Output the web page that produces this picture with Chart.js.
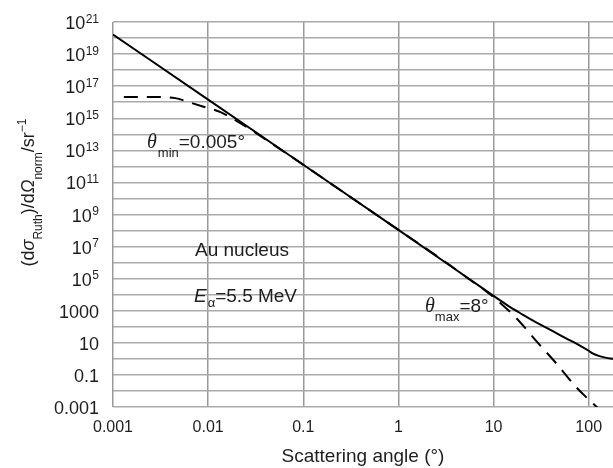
<html>

<head>
  <script src="https://cdn.jsdelivr.net/npm/chart.js"></script>
  <title>Rutherford scattering</title>
  <style>
    body { margin: 0; background: #fff; }
  </style>
</head>

<body>
  <canvas id="myChart" width="613" height="468"></canvas>

  <script>
    // scattering angle (deg) vs normalised cross section
    const solidAngle = [0.001, 0.01, 0.1, 1, 10, 14, 20, 28, 40, 56, 80, 100, 110, 125, 150, 180];
    const solidValue = [1.66e20, 1.45e16, 1.26e12, 1.1e8, 8.5e3, 2150, 600, 190, 63, 21, 7, 3.2, 2.2, 1.6, 1.2, 1.0];

    // finite angular range (theta_min / theta_max) curve
    const dashAngle = [0.0013, 0.003, 0.0045, 0.0065, 0.009, 0.0135, 0.022, 0.03, 0.1, 1, 3, 5.5, 8, 10, 17.4, 28.8, 45.7, 74, 123];
    const dashValue = [2.1e16, 2.1e16, 1.8e16, 9.5e15, 5.2e15, 2.4e15, 4.8e14, 1.5e14, 1.26e12, 1.1e8, 1.3e6, 9.5e4, 2e4, 7e3, 340, 11, 0.52, 0.017, 0.00093];

    const xTicks = [0.001, 0.01, 0.1, 1, 10, 100];
    const xTickLabels = ["0.001", "0.01", "0.1", "1", "10", "100"];
    const yTicks = [1e21, 1e19, 1e17, 1e15, 1e13, 1e11, 1e9, 1e7, 1e5, 1e3, 1e1, 1e-1, 1e-3];
    const yTickLabels = ["10^21", "10^19", "10^17", "10^15", "10^13", "10^11", "10^9", "10^7", "10^5", "1000", "10", "0.1", "0.001"];

    const SANS = "'Liberation Sans', Arial, sans-serif";
    const SERIF = "'Liberation Serif', 'Times New Roman', serif";

    function toPoints(xs, ys) {
      return xs.map((x, i) => ({ x: x, y: ys[i] }));
    }

    // draw a row of text pieces, each with its own font and baseline shift
    function drawRuns(ctx, runs, x, y) {
      let cx = x;
      for (const r of runs) {
        ctx.font = r.font;
        ctx.fillText(r.t, cx, y + (r.dy || 0));
        cx += ctx.measureText(r.t).width + (r.gap || 0);
      }
    }
    function runsWidth(ctx, runs) {
      let w = 0;
      for (const r of runs) {
        ctx.font = r.font;
        w += ctx.measureText(r.t).width + (r.gap || 0);
      }
      return w;
    }

    const textPlugin = {
      id: "textPlugin",
      afterDraw: (chart) => {
        const ctx = chart.ctx;
        const xs = chart.scales.x;
        const ys = chart.scales.y;
        const area = chart.chartArea;
        ctx.save();
        ctx.fillStyle = "#1e1e1e";
        ctx.textBaseline = "alphabetic";

        // x tick labels
        ctx.font = "16px " + SANS;
        ctx.textAlign = "center";
        xTicks.forEach((v, i) => {
          ctx.fillText(xTickLabels[i], xs.getPixelForValue(v), area.bottom + 25);
        });

        // y tick labels, powers of ten with a raised exponent
        ctx.textAlign = "right";
        const right = area.left - 14;
        yTicks.forEach((v, i) => {
          const y = ys.getPixelForValue(v);
          const parts = yTickLabels[i].split("^");
          if (parts.length === 2) {
            ctx.font = "12px " + SANS;
            const w = ctx.measureText(parts[1]).width;
            ctx.fillText(parts[1], right, y + 0.5);
            ctx.font = "18px " + SANS;
            ctx.fillText(parts[0], right - w - 0.5, y + 7);
          } else {
            ctx.font = "18px " + SANS;
            ctx.fillText(parts[0], right, y + 7);
          }
        });

        // x axis title
        ctx.font = "19px " + SANS;
        ctx.textAlign = "center";
        ctx.fillText("Scattering angle (\u00b0)", (area.left + area.right) / 2, 462);
        ctx.textAlign = "left";

        // y axis title, rotated
        const main = "18px " + SANS;
        const ital = "italic 18px " + SANS;
        const small = "12px " + SANS;
        const yRuns = [
          { t: "(d", font: main },
          { t: "\u03c3", font: ital },
          { t: "Ruth", font: small, dy: 8 },
          { t: ")/d", font: main },
          { t: "\u03a9", font: ital },
          { t: "norm", font: small, dy: 8 },
          { t: "/sr", font: main },
          { t: "\u22121", font: small, dy: -8 },
        ];
        ctx.save();
        ctx.translate(33.5, 192.5);
        ctx.rotate(-Math.PI / 2);
        drawRuns(ctx, yRuns, -runsWidth(ctx, yRuns) / 2, 0);
        ctx.restore();

        // annotations
        const big = "19px " + SANS;
        const sub = "13px " + SANS;
        const theta = "italic 20px " + SERIF;
        drawRuns(ctx, [
          { t: "\u03b8", font: theta, gap: 1 },
          { t: "min", font: sub, dy: 9 },
          { t: "=0.005\u00b0", font: big },
        ], 147, 148);

        ctx.font = big;
        ctx.fillText("Au nucleus", 195, 256);

        drawRuns(ctx, [
          { t: "E", font: "italic 19px " + SANS, gap: 1 },
          { t: "\u03b1", font: sub, dy: 5 },
          { t: "=5.5 MeV", font: big },
        ], 194, 302);

        drawRuns(ctx, [
          { t: "\u03b8", font: theta, gap: 0 },
          { t: "max", font: sub, dy: 9 },
          { t: "=8\u00b0", font: big },
        ], 425, 312);

        ctx.restore();
      },
    };

    const ctx1 = document.getElementById("myChart").getContext("2d");
    const myChart1 = new Chart(ctx1, {
      type: "line",
      data: {
        datasets: [
          {
            label: "Rutherford",
            data: toPoints(solidAngle, solidValue),
            borderColor: "#000",
            borderWidth: 2,
            pointRadius: 0,
            fill: false,
            cubicInterpolationMode: "monotone",
          },
          {
            label: "limited",
            data: toPoints(dashAngle, dashValue),
            borderColor: "#000",
            borderWidth: 2,
            borderDash: [14, 9],
            pointRadius: 0,
            fill: false,
            cubicInterpolationMode: "monotone",
          },
        ],
      },
      options: {
        responsive: false,
        animation: false,
        devicePixelRatio: 1,
        layout: {
          padding: { left: 113, top: 22, right: 0, bottom: 61 },
        },
        scales: {
          x: {
            type: "logarithmic",
            min: 0.001,
            max: 180,
            bounds: "data",
            border: { display: false },
            grid: { color: "#999999", lineWidth: 1.5, drawTicks: false },
            ticks: { display: false },
            afterBuildTicks: (scale) => {
              scale.ticks = xTicks.map((v) => ({ value: v }));
            },
          },
          y: {
            type: "logarithmic",
            min: 1e-3,
            max: 1e21,
            bounds: "data",
            border: { display: false },
            grid: { color: "#aaaaaa", lineWidth: 1.5, drawTicks: false },
            ticks: { display: false },
            afterBuildTicks: (scale) => {
              const t = [];
              for (let e = -3; e <= 21; e++) t.push({ value: Math.pow(10, e) });
              scale.ticks = t;
            },
          },
        },
        plugins: {
          legend: { display: false },
          tooltip: { enabled: false },
        },
      },
      plugins: [textPlugin],
    });
  </script>
</body>

</html>
